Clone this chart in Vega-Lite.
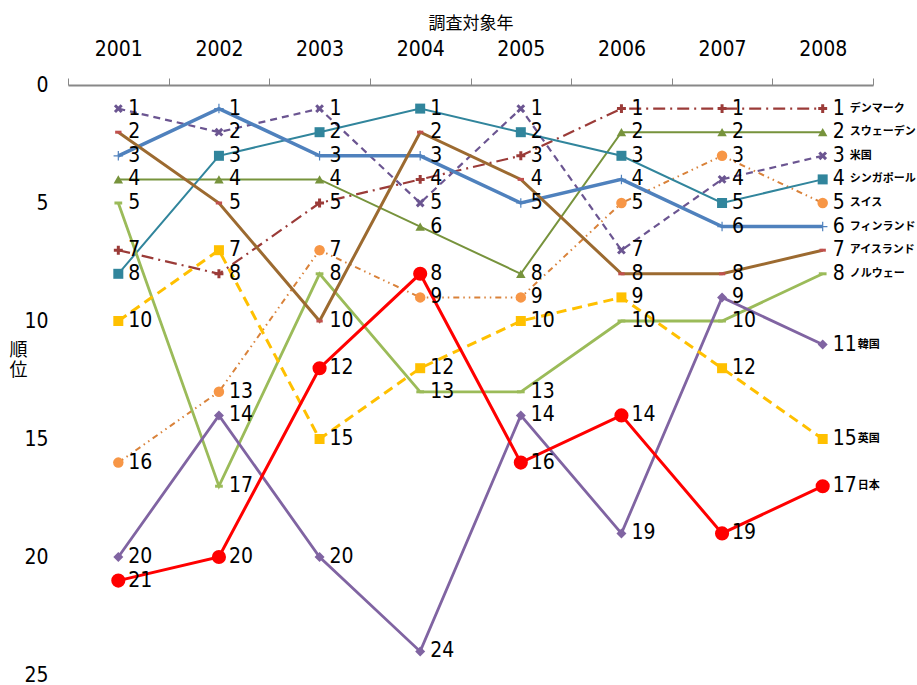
{
  "$schema": "https://vega.github.io/schema/vega-lite/v6.json",
  "width": 805,
  "height": 590,
  "autosize": {"type": "none"},
  "padding": {"left": 68, "top": 85, "right": 44, "bottom": 10},
  "background": "white",
  "config": {
    "view": {"stroke": null},
    "font": "Liberation Sans Narrow, DejaVu Sans Condensed, sans-serif"
  },
  "data": {
    "values": [
      {"country": "デンマーク", "year": "2001", "rank": 7},
      {"country": "デンマーク", "year": "2002", "rank": 8},
      {"country": "デンマーク", "year": "2003", "rank": 5},
      {"country": "デンマーク", "year": "2004", "rank": 4},
      {"country": "デンマーク", "year": "2005", "rank": 3},
      {"country": "デンマーク", "year": "2006", "rank": 1},
      {"country": "デンマーク", "year": "2007", "rank": 1},
      {"country": "デンマーク", "year": "2008", "rank": 1},
      {"country": "スウェーデン", "year": "2001", "rank": 4},
      {"country": "スウェーデン", "year": "2002", "rank": 4},
      {"country": "スウェーデン", "year": "2003", "rank": 4},
      {"country": "スウェーデン", "year": "2004", "rank": 6},
      {"country": "スウェーデン", "year": "2005", "rank": 8},
      {"country": "スウェーデン", "year": "2006", "rank": 2},
      {"country": "スウェーデン", "year": "2007", "rank": 2},
      {"country": "スウェーデン", "year": "2008", "rank": 2},
      {"country": "米国", "year": "2001", "rank": 1},
      {"country": "米国", "year": "2002", "rank": 2},
      {"country": "米国", "year": "2003", "rank": 1},
      {"country": "米国", "year": "2004", "rank": 5},
      {"country": "米国", "year": "2005", "rank": 1},
      {"country": "米国", "year": "2006", "rank": 7},
      {"country": "米国", "year": "2007", "rank": 4},
      {"country": "米国", "year": "2008", "rank": 3},
      {"country": "シンガポール", "year": "2001", "rank": 8},
      {"country": "シンガポール", "year": "2002", "rank": 3},
      {"country": "シンガポール", "year": "2003", "rank": 2},
      {"country": "シンガポール", "year": "2004", "rank": 1},
      {"country": "シンガポール", "year": "2005", "rank": 2},
      {"country": "シンガポール", "year": "2006", "rank": 3},
      {"country": "シンガポール", "year": "2007", "rank": 5},
      {"country": "シンガポール", "year": "2008", "rank": 4},
      {"country": "スイス", "year": "2001", "rank": 16},
      {"country": "スイス", "year": "2002", "rank": 13},
      {"country": "スイス", "year": "2003", "rank": 7},
      {"country": "スイス", "year": "2004", "rank": 9},
      {"country": "スイス", "year": "2005", "rank": 9},
      {"country": "スイス", "year": "2006", "rank": 5},
      {"country": "スイス", "year": "2007", "rank": 3},
      {"country": "スイス", "year": "2008", "rank": 5},
      {"country": "フィンランド", "year": "2001", "rank": 3},
      {"country": "フィンランド", "year": "2002", "rank": 1},
      {"country": "フィンランド", "year": "2003", "rank": 3},
      {"country": "フィンランド", "year": "2004", "rank": 3},
      {"country": "フィンランド", "year": "2005", "rank": 5},
      {"country": "フィンランド", "year": "2006", "rank": 4},
      {"country": "フィンランド", "year": "2007", "rank": 6},
      {"country": "フィンランド", "year": "2008", "rank": 6},
      {"country": "アイスランド", "year": "2001", "rank": 2},
      {"country": "アイスランド", "year": "2002", "rank": 5},
      {"country": "アイスランド", "year": "2003", "rank": 10},
      {"country": "アイスランド", "year": "2004", "rank": 2},
      {"country": "アイスランド", "year": "2005", "rank": 4},
      {"country": "アイスランド", "year": "2006", "rank": 8},
      {"country": "アイスランド", "year": "2007", "rank": 8},
      {"country": "アイスランド", "year": "2008", "rank": 7},
      {"country": "ノルウェー", "year": "2001", "rank": 5},
      {"country": "ノルウェー", "year": "2002", "rank": 17},
      {"country": "ノルウェー", "year": "2003", "rank": 8},
      {"country": "ノルウェー", "year": "2004", "rank": 13},
      {"country": "ノルウェー", "year": "2005", "rank": 13},
      {"country": "ノルウェー", "year": "2006", "rank": 10},
      {"country": "ノルウェー", "year": "2007", "rank": 10},
      {"country": "ノルウェー", "year": "2008", "rank": 8},
      {"country": "韓国", "year": "2001", "rank": 20},
      {"country": "韓国", "year": "2002", "rank": 14},
      {"country": "韓国", "year": "2003", "rank": 20},
      {"country": "韓国", "year": "2004", "rank": 24},
      {"country": "韓国", "year": "2005", "rank": 14},
      {"country": "韓国", "year": "2006", "rank": 19},
      {"country": "韓国", "year": "2007", "rank": 9},
      {"country": "韓国", "year": "2008", "rank": 11},
      {"country": "英国", "year": "2001", "rank": 10},
      {"country": "英国", "year": "2002", "rank": 7},
      {"country": "英国", "year": "2003", "rank": 15},
      {"country": "英国", "year": "2004", "rank": 12},
      {"country": "英国", "year": "2005", "rank": 10},
      {"country": "英国", "year": "2006", "rank": 9},
      {"country": "英国", "year": "2007", "rank": 12},
      {"country": "英国", "year": "2008", "rank": 15},
      {"country": "日本", "year": "2001", "rank": 21},
      {"country": "日本", "year": "2002", "rank": 20},
      {"country": "日本", "year": "2003", "rank": 12},
      {"country": "日本", "year": "2004", "rank": 8},
      {"country": "日本", "year": "2005", "rank": 16},
      {"country": "日本", "year": "2006", "rank": 14},
      {"country": "日本", "year": "2007", "rank": 19},
      {"country": "日本", "year": "2008", "rank": 17}
    ]
  },
  "encoding": {
    "x": {
      "field": "year", "type": "ordinal",
      "scale": {"type": "band", "paddingInner": 0, "paddingOuter": 0},
      "axis": {
        "orient": "top", "title": "調査対象年",
        "titleFont": "Noto Sans CJK JP", "titleFontSize": 17, "titleFontWeight": "normal", "titleColor": "#000",
        "titleY": -62, "titleBaseline": "middle",
        "labelAngle": 0, "labelFontSize": 21, "labelColor": "#000", "labelPadding": 19,
        "tickBand": "extent", "tickSize": 7, "tickColor": "#888", "tickWidth": 1,
        "domainColor": "#888", "domainWidth": 2, "grid": false
      }
    },
    "y": {
      "field": "rank", "type": "quantitative",
      "scale": {"domain": [0, 25], "reverse": true, "nice": false, "zero": false},
      "axis": {
        "values": [0, 5, 10, 15, 20, 25], "domain": false, "ticks": false, "grid": false,
        "labelFontSize": 21, "labelColor": "#000", "labelPadding": 20,
        "title": ["順", "位"], "titleAngle": 0, "titleFont": "Noto Sans CJK JP", "titleFontSize": 18,
        "titleFontWeight": "normal", "titleColor": "#000", "titleX": -50, "titleY": 256,
        "titleAlign": "center", "titleBaseline": "top", "titleLineHeight": 20
      }
    },
    "color": {
      "field": "country", "type": "nominal", "legend": null,
      "scale": {
        "domain": ["デンマーク", "スウェーデン", "米国", "シンガポール", "スイス", "フィンランド", "アイスランド", "ノルウェー", "韓国", "英国", "日本"],
        "range": ["#9B3B38", "#77933C", "#6B5591", "#31859C", "#D9823A", "#4F81BD", "#9C6A30", "#9BBB59", "#8064A2", "#FFC000", "#FF0000"]
      }
    }
  },
  "layer": [
    {
      "transform": [{"filter": {"field": "country", "oneOf": ["スイス"]}}],
      "mark": {"type": "line", "strokeWidth": 2, "strokeDash": [6, 4, 1.5, 4, 1.5, 4]}
    },
    {
      "transform": [{"filter": {"field": "country", "oneOf": ["デンマーク"]}}],
      "mark": {"type": "line", "strokeWidth": 2.2, "strokeDash": [12, 5, 2, 5]}
    },
    {
      "transform": [{"filter": {"field": "country", "oneOf": ["米国"]}}],
      "mark": {"type": "line", "strokeWidth": 2.2, "strokeDash": [7, 5]}
    },
    {
      "transform": [{"filter": {"field": "country", "oneOf": ["スウェーデン", "シンガポール"]}}],
      "mark": {"type": "line", "strokeWidth": 2}
    },
    {
      "transform": [{"filter": {"field": "country", "oneOf": ["ノルウェー", "韓国"]}}],
      "mark": {"type": "line", "strokeWidth": 2.8}
    },
    {
      "transform": [{"filter": {"field": "country", "oneOf": ["英国"]}}],
      "mark": {"type": "line", "strokeWidth": 3, "strokeDash": [10, 6]}
    },
    {
      "transform": [{"filter": {"field": "country", "oneOf": ["フィンランド"]}}],
      "mark": {"type": "line", "strokeWidth": 3.5}
    },
    {
      "transform": [{"filter": {"field": "country", "oneOf": ["アイスランド", "日本"]}}],
      "mark": {"type": "line", "strokeWidth": 3}
    },
    {
      "transform": [{"filter": {"field": "country", "oneOf": ["デンマーク"]}}],
      "mark": {"type": "point", "shape": "M-1,0L1,0M0,-1L0,1", "size": 80, "strokeWidth": 3, "opacity": 1, "stroke": "#9B3B38"}
    },
    {
      "transform": [{"filter": {"field": "country", "oneOf": ["米国"]}}],
      "mark": {"type": "point", "shape": "M-1,-1L1,1M-1,1L1,-1", "size": 45, "strokeWidth": 3, "opacity": 1, "stroke": "#6B5591"}
    },
    {
      "transform": [{"filter": {"field": "country", "oneOf": ["フィンランド"]}}],
      "mark": {"type": "point", "shape": "M-1,0L1,0M0,-1L0,1", "size": 90, "strokeWidth": 1.2, "opacity": 1, "stroke": "#4F81BD"}
    },
    {
      "transform": [{"filter": {"field": "country", "oneOf": ["アイスランド"]}}],
      "mark": {"type": "point", "shape": "M-1,0L1,0", "size": 40, "strokeWidth": 3, "opacity": 1, "stroke": "#C0504D"}
    },
    {
      "transform": [{"filter": {"field": "country", "oneOf": ["ノルウェー"]}}],
      "mark": {"type": "point", "shape": "M-1,0L1,0", "size": 60, "strokeWidth": 3, "opacity": 1, "stroke": "#9BBB59"}
    },
    {
      "transform": [{"filter": {"field": "country", "oneOf": ["スウェーデン"]}}],
      "mark": {"type": "point", "shape": "triangle-up", "size": 90, "filled": true, "opacity": 1, "fill": "#77933C"}
    },
    {
      "transform": [{"filter": {"field": "country", "oneOf": ["シンガポール"]}}],
      "mark": {"type": "point", "shape": "square", "size": 100, "filled": true, "opacity": 1, "fill": "#31859C"}
    },
    {
      "transform": [{"filter": {"field": "country", "oneOf": ["英国"]}}],
      "mark": {"type": "point", "shape": "square", "size": 100, "filled": true, "opacity": 1, "fill": "#FFC000"}
    },
    {
      "transform": [{"filter": {"field": "country", "oneOf": ["スイス"]}}],
      "mark": {"type": "point", "shape": "circle", "size": 110, "filled": true, "opacity": 1, "fill": "#F79646"}
    },
    {
      "transform": [{"filter": {"field": "country", "oneOf": ["韓国"]}}],
      "mark": {"type": "point", "shape": "diamond", "size": 100, "filled": true, "opacity": 1, "fill": "#8064A2"}
    },
    {
      "transform": [{"filter": {"field": "country", "oneOf": ["日本"]}}],
      "mark": {"type": "point", "shape": "circle", "size": 200, "filled": true, "opacity": 1, "fill": "#FF0000"}
    },
    {
      "mark": {"type": "text", "align": "left", "baseline": "middle", "dx": 10, "fontSize": 21, "color": "#000"},
      "encoding": {"text": {"field": "rank", "type": "quantitative"}, "color": {"value": "#000"}}
    },
    {
      "transform": [{"filter": "datum.year == '2008' && datum.rank < 10"}],
      "mark": {"type": "text", "align": "left", "baseline": "middle", "dx": 27, "fontSize": 11, "fontWeight": "bold", "font": "Noto Sans CJK JP"},
      "encoding": {"text": {"field": "country", "type": "nominal"}, "color": {"value": "#000"}}
    },
    {
      "transform": [{"filter": "datum.year == '2008' && datum.rank >= 10"}],
      "mark": {"type": "text", "align": "left", "baseline": "middle", "dx": 35, "fontSize": 11, "fontWeight": "bold", "font": "Noto Sans CJK JP"},
      "encoding": {"text": {"field": "country", "type": "nominal"}, "color": {"value": "#000"}}
    }
  ]
}
